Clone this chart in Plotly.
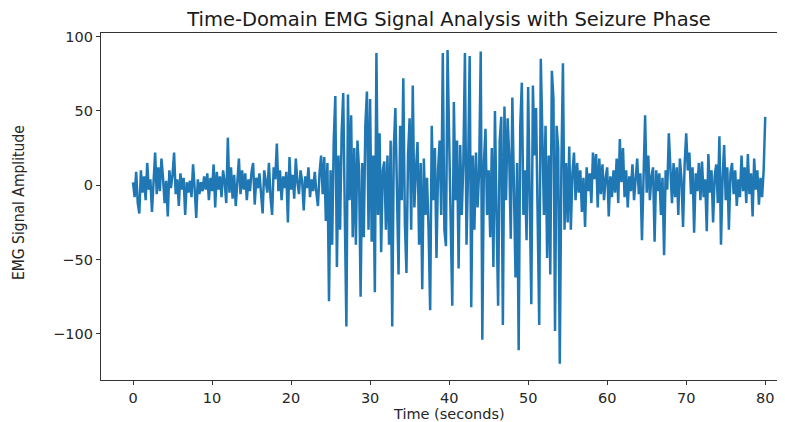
import plotly.graph_objects as go

SAMPLE_STEP = 0.2  # seconds between samples

# EMG amplitude, one row per second (5 samples per second)
emg_baseline = [
    2, -8, 9, -12, -19,
    10, -5, 6, -10, 15,
    -3, 4, -18, 8, 22,
    -6, 12, -4, 18, 5,
    -12, 3, -21, 10, -2,
    7, 22, -6, 4, -14,
    8, -3, 5, -20, 2,
    -5, 3, -8, 14, -2,
    -22, 4, -6, 2, -4,
    6, -3, 8, -10, 5,
    -4, 14, -15, 9, -3,
    6, -8, 10, 2, -12,
    32, -5, 12, -9, 7,
    -14, 5, 18, -6, 10,
    -3, 8, -10, 4, -4,
    9, 15, -13, 5, -2,
    8, -6, -19, 10, 3,
    -5, 15, -8, -20, 12,
    4, 28, -4, 10, -10,
    6, -2, 9, -25, 19,
    -3, 7, -9, 18, 2,
    -6, 10, 3, -17, 6,
    -2, 12, -8, 4, -4,
    9, -5, -14, 8, 20,
    -6, 19, -24, 15, -78,
]

emg_seizure = [
    10, -40, 30, 60, -55,
    20, -30, 35, 62, -20,
    -95, 61, -10, 47, -35,
    25, -40, 30, 10, -75,
    15, -35, 40, 63, -30,
    58, -38, 20, -72, 89,
    -20, 35, -45, 10, 16,
    -30, 20, -40, 30, -95,
    25, 52, -20, -60, 40,
    -10, 72, -25, -59, 20,
    45, -30, 67, -15, 10,
    29, -40, 15, -70, 18,
    -20, 5, -30, -84, 40,
    -10, 25, -49, 10, 30,
    -20, 89, -30, -41, 91,
    20, -25, -81, 56, -10,
    30, -56, 27, -20, 15,
    89, -40, 10, 87, -82,
    20, -30, 22, -15, 10,
    90, -104, 15, 38, -20,
    10, -35, 25, -55, 50,
    -20, -81, 30, 46, -94,
    53, -10, 45, 20, -36,
    59, -20, -62, 15, -111,
    40, 69, -20, 10, -37,
    66, -10, -80, 67, 20,
    52, -30, -94, 85, 30,
    -20, 40, -49, 20, -60,
    77, 58, -98, 40, 25,
    -120, 10, 82, -30, 15,
]

emg_recovery = [
    -25, 26, -30, 8, 22,
    -10, 15, -5, 10, -18,
    5, -28, 12, -4, 8,
    -12, 22, 4, 21, -15,
    18, -6, 14, -10, 5,
    12, -21, 6, -8, 10,
    -5, 18, -12, 31, 2,
    25, -8, 10, -15, 6,
    -4, 14, -10, 5, 18,
    -6, 8, -37, 15, 47,
    -5, 20, -10, 6, 12,
    -38, 10, -4, 8, -20,
    5, -47, 10, -3, 35,
    6, -12, 15, -8, 12,
    -20, 18, 4, -28, 14,
    35, 10, 22, -6, 12,
    -32, 8, -4, 15, -10,
    16, -8, 4, -31, 21,
    -5, 10, -25, 6, 14,
    -12, 33, -40, 5, 27,
    -10, 12, -30, 8, 15,
    -6, 10, -14, 4, -8,
    20, -4, 12, -12, 21,
    -6, 8, -21, 18, -3,
    10, -13, 5, -8, 10,
    46,
]

emg = emg_baseline + emg_seizure + emg_recovery
time_s = [round(i * SAMPLE_STEP, 2) for i in range(len(emg))]

x_ticks = [0, 10, 20, 30, 40, 50, 60, 70, 80]
y_ticks = [-100, -50, 0, 50, 100]

fig = go.Figure(
    go.Scatter(
        x=time_s, y=emg, mode="lines",
        line=dict(color="#1f77b4", width=2.5),
        showlegend=False,
    )
)

tick_font = dict(family="DejaVu Sans", size=14.5, color="#262626")

# The page body adds an 8px offset, so the figure is laid out 8px smaller.
W, H = 777, 414
fig.update_layout(
    width=W, height=H,
    margin=dict(l=93, r=0, t=25, b=42, autoexpand=False),
    paper_bgcolor="white", plot_bgcolor="white",
    title=dict(
        text="Time-Domain EMG Signal Analysis with Seizure Phase",
        x=441 / W, xref="container", xanchor="center",
        y=1 - 11.5 / H, yref="container", yanchor="middle",
        font=dict(family="DejaVu Sans", size=19.5, color="#1a1a1a"),
    ),
    xaxis=dict(
        range=[-4.05, 82.5], tickvals=x_ticks, automargin=False,
        showgrid=False, zeroline=False,
        showline=True, linecolor="#333333", linewidth=1.3, mirror=True,
        ticks="outside", ticklen=4, tickcolor="#333333",
        tickfont=tick_font,
    ),
    yaxis=dict(
        range=[-131, 102.4], tickvals=y_ticks, automargin=False,
        showgrid=False, zeroline=False,
        showline=True, linecolor="#333333", linewidth=1.3,
        ticks="outside", ticklen=4, tickcolor="#333333",
        tickfont=tick_font,
    ),
    annotations=[
        dict(
            text="Time (seconds)", xref="paper", yref="paper",
            x=(449 - 101) / 684, y=(380 - 413.5) / 347,
            xanchor="center", yanchor="middle", showarrow=False,
            font=dict(family="DejaVu Sans", size=14.5, color="#262626"),
        ),
        dict(
            text="EMG Signal Amplitude", xref="paper", yref="paper",
            x=(19 - 101) / 684, y=(380 - 203) / 347, textangle=-90,
            xanchor="center", yanchor="middle", showarrow=False,
            font=dict(family="DejaVu Sans Condensed, Liberation Sans Narrow, sans-serif",
                      size=15.5, color="#262626"),
        ),
    ],
)

fig.write_html("out.html")
